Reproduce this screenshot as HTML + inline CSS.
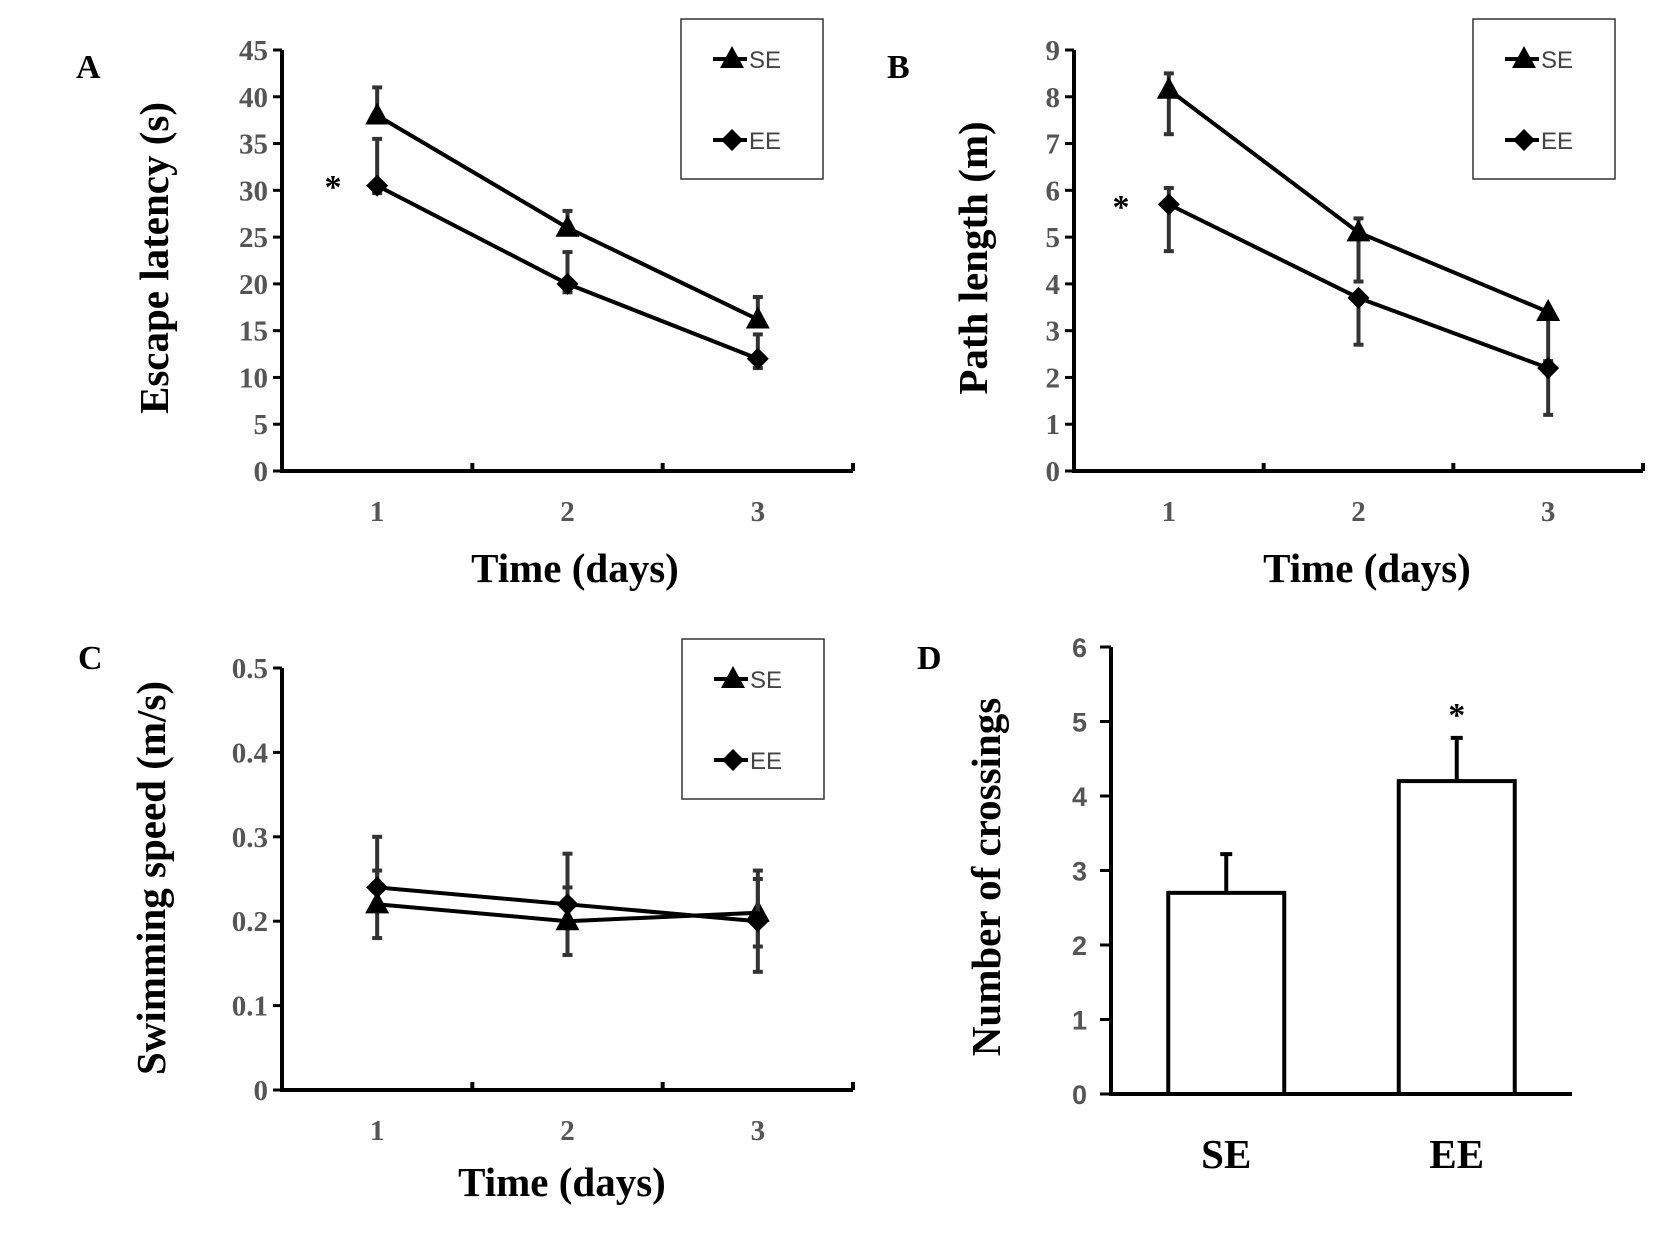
<!DOCTYPE html>
<html><head><meta charset="utf-8"><style>
html,body{margin:0;padding:0;background:#fff;}
svg{display:block;}
.tick{font-family:"Liberation Serif",serif;font-weight:bold;font-size:29px;fill:#555;}
.tickd{font-family:"Liberation Sans",sans-serif;font-weight:bold;font-size:27px;fill:#555;}
.title{font-family:"Liberation Serif",serif;font-weight:bold;font-size:41px;fill:#000;}
.panel{font-family:"Liberation Serif",serif;font-weight:bold;font-size:34px;fill:#000;}
.leg{font-family:"Liberation Sans",sans-serif;font-size:24px;fill:#444;}
</style></head><body>
<svg id="fig" width="1653" height="1240" viewBox="0 0 1653 1240" xmlns="http://www.w3.org/2000/svg"></svg>
<script>
// Panel A: Escape latency
const daysA = ["1","2","3"];
const aSE = [38, 26, 16.2];
const aSEhi = [41, 27.8, 18.6];
const aSElo = [38, 26, 16.2];
const aEE = [30.5, 20, 12];
const aEEhi = [35.5, 23.4, 14.6];
const aEElo = [29.7, 19.1, 11];
const aTicks = [0,5,10,15,20,25,30,35,40,45];
// Panel B: Path length
const bSE = [8.15, 5.1, 3.4];
const bSEhi = [8.5, 5.4, 3.4];
const bSElo = [7.2, 4.05, 2.3];
const bEE = [5.7, 3.7, 2.2];
const bEEhi = [6.05, 3.7, 2.35];
const bEElo = [4.7, 2.7, 1.2];
const bTicks = [0,1,2,3,4,5,6,7,8,9];
// Panel C: Swimming speed
const cSE = [0.22, 0.20, 0.21];
const cSEhi = [0.26, 0.24, 0.25];
const cSElo = [0.18, 0.16, 0.17];
const cEE = [0.24, 0.22, 0.20];
const cEEhi = [0.30, 0.28, 0.26];
const cEElo = [0.24, 0.22, 0.14];
const cTicks = ["0","0.1","0.2","0.3","0.4","0.5"];
// Panel D: Number of crossings
const dGroups = ["SE","EE"];
const dVals = [2.7, 4.2];
const dErr = [0.52, 0.58];
const dTicks = [0,1,2,3,4,5,6];

const svg = document.getElementById('fig');
const NS = 'http://www.w3.org/2000/svg';
function mk(tag, attrs, parent, text){
  const e = document.createElementNS(NS, tag);
  for (const k in attrs) e.setAttribute(k, attrs[k]);
  if (text !== undefined) e.textContent = text;
  (parent || svg).appendChild(e);
  return e;
}
function tri(g, x, y){ return mk('polygon',{points:`${x},${y-13} ${x-12},${y+9} ${x+12},${y+9}`,fill:'#000'},g); }
function dia(g, x, y){ return mk('polygon',{points:`${x},${y-11} ${x+11},${y} ${x},${y+11} ${x-11},${y}`,fill:'#000'},g); }

function linePanel(o){
  const g = mk('g',{});
  
  
  const ymax = o.ymax;
  const sy = v => o.y0 - (v/ymax)*(o.y0-o.y1);
  const band = (o.xe - o.ax)/3;
  const sx = i => o.ax + band*(i+0.5);
  const ax = mk('path',{d:`M${o.ax},${o.y1} V${o.y0} H${o.xe}`,stroke:'#000','stroke-width':4,fill:'none'},g);
   
  for (let i=1;i<=3;i++){ const x=o.ax+band*i; mk('line',{x1:x,y1:o.y0,x2:x,y2:o.y0-8,stroke:'#000','stroke-width':4},g); }
  o.ticks.forEach(t=>{
    const v = parseFloat(t); const y = sy(v);
    mk('line',{x1:o.ax-9,y1:y,x2:o.ax,y2:y,stroke:'#000','stroke-width':3},g);
    const tl = mk('text',{x:o.ax-14,y:y+10,'text-anchor':'end',class:'tick'},g,String(t));
     
  });
  daysA.forEach((d,i)=>{
    const tl = mk('text',{x:sx(i),y:o.y0+50,'text-anchor':'middle',class:'tick'},g,d);
     
  });
  const xt = mk('text',{x:o.xtx,y:o.xty,'text-anchor':'middle',class:'title'},g,'Time (days)');
   
  const yt = mk('text',{x:0,y:0,'text-anchor':'middle',class:'title',transform:`translate(${o.ytx},${o.yty}) rotate(-90)`},g,o.ytitle);
   
  const pl = mk('text',{x:o.plx,y:o.ply,class:'panel'},g,o.label);
   
  [[o.se,o.sehi,o.selo,'se',tri],[o.ee,o.eehi,o.eelo,'ee',dia]].forEach(([vals,hi,lo,nm,mark])=>{
    const sg = mk('g',{},g);
     
    vals.forEach((v,i)=>{
      const x=sx(i);
      if (hi[i]!==v || lo[i]!==v){
        mk('line',{x1:x,y1:sy(hi[i]),x2:x,y2:sy(lo[i]),stroke:'#333','stroke-width':4},sg);
        if (hi[i]!==v) mk('line',{x1:x-5,y1:sy(hi[i]),x2:x+5,y2:sy(hi[i]),stroke:'#333','stroke-width':4},sg);
        if (lo[i]!==v) mk('line',{x1:x-5,y1:sy(lo[i]),x2:x+5,y2:sy(lo[i]),stroke:'#333','stroke-width':4},sg);
      }
    });
    const pts = vals.map((v,i)=>`${sx(i)},${sy(v)}`).join(' ');
    const ln = mk('polyline',{points:pts,fill:'none',stroke:'#000','stroke-width':4},sg);
     
    vals.forEach((v,i)=>{ const m=mark(sg,sx(i),sy(v));   });
  });
  if (o.star){ const s=mk('text',{x:o.star[0],y:o.star[1],'text-anchor':'middle',class:'panel','font-size':'44'},g,'*');   }
  const lg = mk('g',{},g);
   
  mk('rect',{x:o.lx,y:o.ly,width:142,height:160,fill:'#fff',stroke:'#333','stroke-width':1.5},lg);
  const e1y=o.ly+40, e2y=o.ly+121, lx=o.lx+32;
  mk('line',{x1:lx,y1:e1y,x2:lx+34,y2:e1y,stroke:'#000','stroke-width':4},lg); tri(lg,lx+19,e1y);
  mk('text',{x:lx+36,y:e1y+9,class:'leg'},lg,'SE');
  mk('line',{x1:lx,y1:e2y,x2:lx+34,y2:e2y,stroke:'#000','stroke-width':4},lg); dia(lg,lx+19,e2y);
  mk('text',{x:lx+36,y:e2y+9,class:'leg'},lg,'EE');
}

linePanel({name:'panel-a-escape-latency',ax:282,xe:853,y0:471,y1:50,ymax:45,ticks:aTicks,
  se:aSE,sehi:aSEhi,selo:aSElo,ee:aEE,eehi:aEEhi,eelo:aEElo,
  xtx:575,xty:582,ytx:168,yty:258,ytitle:'Escape latency (s)',label:'A',plx:76,ply:78,
  star:[333,198],lx:681,ly:19});
linePanel({name:'panel-b-path-length',ax:1074,xe:1643,y0:471,y1:50,ymax:9,ticks:bTicks,
  se:bSE,sehi:bSEhi,selo:bSElo,ee:bEE,eehi:bEEhi,eelo:bEElo,
  xtx:1367,xty:582,ytx:987,yty:258,ytitle:'Path length (m)',label:'B',plx:887,ply:78,
  star:[1121,218],lx:1473,ly:19});
linePanel({name:'panel-c-swimming-speed',ax:282,xe:853,y0:1090,y1:668,ymax:0.5,ticks:cTicks,
  se:cSE,sehi:cSEhi,selo:cSElo,ee:cEE,eehi:cEEhi,eelo:cEElo,
  xtx:562,xty:1196,ytx:165,yty:878,ytitle:'Swimming speed (m/s)',label:'C',plx:78,ply:669,
  lx:682,ly:639});

(function(){
  const g = mk('g',{});
   
  const axX=1111, x1=1572, y0=1094, yTop=647, ymax=6;
  const sy = v => y0 - (v/ymax)*(y0-yTop);
  const band=(x1-axX)/2;
  const cx = i => axX + band*(i+0.5);
  const bw = 116;
  dGroups.forEach((gname,i)=>{
    const x=cx(i);
    const eb = mk('line',{x1:x,y1:sy(dVals[i]+dErr[i]),x2:x,y2:sy(dVals[i]),stroke:'#000','stroke-width':4},g);
     
    mk('line',{x1:x-6,y1:sy(dVals[i]+dErr[i]),x2:x+6,y2:sy(dVals[i]+dErr[i]),stroke:'#000','stroke-width':4},g);
    const r = mk('rect',{x:x-bw/2,y:sy(dVals[i]),width:bw,height:y0-sy(dVals[i]),fill:'#fff',stroke:'#000','stroke-width':4},g);
     
    const t = mk('text',{x:x,y:1168,'text-anchor':'middle',class:'title'},g,gname);
     
  });
  const ax = mk('path',{d:`M${axX},${yTop} V${y0} H${x1}`,stroke:'#000','stroke-width':4,fill:'none'},g);
   
  dTicks.forEach(t=>{
    const y=sy(t);
    mk('line',{x1:axX-11,y1:y,x2:axX,y2:y,stroke:'#000','stroke-width':3},g);
    const tl = mk('text',{x:axX-24,y:y+10,'text-anchor':'end',class:'tickd'},g,String(t));
     
  });
  const yt = mk('text',{x:0,y:0,'text-anchor':'middle',class:'title',transform:'translate(1000,877) rotate(-90)'},g,'Number of crossings');
   
  const pl = mk('text',{x:917,y:669,class:'panel'},g,'D');
   
  const s = mk('text',{x:cx(1),y:sy(dVals[1]+dErr[1])-12,'text-anchor':'middle',class:'panel','font-size':'44'},g,'*');
   
})();
</script>
</body></html>
